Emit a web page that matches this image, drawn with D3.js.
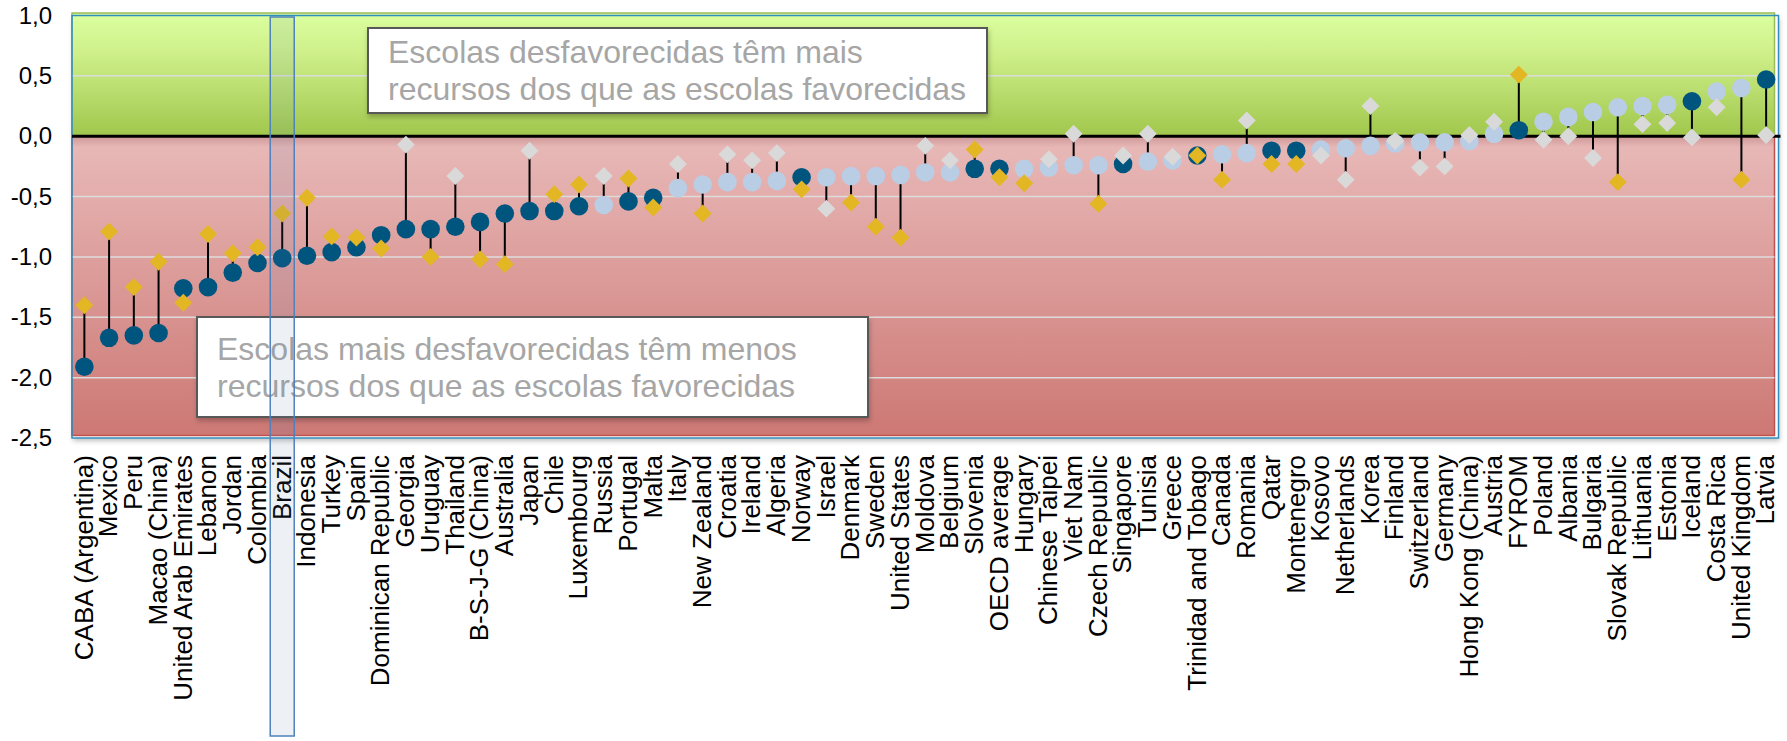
<!DOCTYPE html>
<html>
<head>
<meta charset="utf-8">
<script src="https://cdn.jsdelivr.net/npm/d3@7"></script>
<style>
  html, body { margin: 0; padding: 0; background: #fff; }
  svg { display: block; font-family: "Liberation Sans", Arial, sans-serif; }
</style>
</head>
<body>
<div id="chart"></div>
<script>
// categories, in the order of the chart
const countries = [
    'CABA (Argentina)', 'Mexico', 'Peru', 'Macao (China)', 'United Arab Emirates', 'Lebanon',
    'Jordan', 'Colombia', 'Brazil', 'Indonesia', 'Turkey', 'Spain', 'Dominican Republic',
    'Georgia', 'Uruguay', 'Thailand', 'B-S-J-G (China)', 'Australia', 'Japan', 'Chile',
    'Luxembourg', 'Russia', 'Portugal', 'Malta', 'Italy', 'New Zealand', 'Croatia', 'Ireland',
    'Algeria', 'Norway', 'Israel', 'Denmark', 'Sweden', 'United States', 'Moldova', 'Belgium',
    'Slovenia', 'OECD average', 'Hungary', 'Chinese Taipei', 'Viet Nam', 'Czech Republic',
    'Singapore', 'Tunisia', 'Greece', 'Trinidad and Tobago', 'Canada', 'Romania', 'Qatar',
    'Montenegro', 'Kosovo', 'Netherlands', 'Korea', 'Finland', 'Switzerland', 'Germany',
    'Hong Kong (China)', 'Austria', 'FYROM', 'Poland', 'Albania', 'Bulgaria', 'Slovak Republic',
    'Lithuania', 'Estonia', 'Iceland', 'Costa Rica', 'United Kingdom', 'Latvia'
];

// circle series (index of resource difference)
const circleValues = [
    -1.91, -1.67, -1.65, -1.63, -1.26, -1.25, -1.13, -1.05, -1.01, -0.99, -0.96, -0.92, -0.82,
    -0.77, -0.77, -0.75, -0.71, -0.64, -0.62, -0.62, -0.58, -0.57, -0.54, -0.51, -0.43, -0.40,
    -0.38, -0.38, -0.37, -0.34, -0.34, -0.33, -0.33, -0.32, -0.30, -0.30, -0.27, -0.27, -0.27,
    -0.26, -0.24, -0.24, -0.23, -0.21, -0.20, -0.16, -0.15, -0.14, -0.12, -0.12, -0.11, -0.10,
    -0.08, -0.06, -0.05, -0.05, -0.04, 0.02, 0.05, 0.12, 0.16, 0.20, 0.24, 0.25, 0.26, 0.29,
    0.37, 0.40, 0.47
];
// 1 = significant difference (dark circle), 0 = not significant (light circle)
const circleSignificant = [
    1, 1, 1, 1, 1, 1, 1, 1, 1, 1, 1, 1, 1, 1, 1, 1, 1, 1, 1, 1, 1, 0, 1, 1, 0, 0, 0, 0, 0, 1,
    0, 0, 0, 0, 0, 0, 1, 1, 0, 0, 0, 0, 1, 0, 0, 1, 0, 0, 1, 1, 0, 0, 0, 0, 0, 0, 0, 0, 1, 0,
    0, 0, 0, 0, 0, 1, 0, 0, 1
];

// diamond series
const diamondValues = [
    -1.40, -0.79, -1.25, -1.04, -1.38, -0.81, -0.97, -0.92, -0.64, -0.51, -0.83, -0.84, -0.93,
    -0.07, -1.00, -0.33, -1.02, -1.06, -0.12, -0.48, -0.40, -0.33, -0.35, -0.59, -0.23, -0.64,
    -0.15, -0.20, -0.14, -0.44, -0.60, -0.55, -0.75, -0.84, -0.08, -0.20, -0.11, -0.34, -0.39,
    -0.19, 0.02, -0.56, -0.16, 0.02, -0.17, -0.16, -0.36, 0.13, -0.23, -0.23, -0.16, -0.36,
    0.25, -0.04, -0.26, -0.25, 0.01, 0.12, 0.51, -0.03, 0.00, -0.18, -0.38, 0.10, 0.11, -0.01,
    0.24, -0.36, 0.01
];
// 1 = significant (yellow diamond), 0 = not significant (grey diamond)
const diamondSignificant = [
    1, 1, 1, 1, 1, 1, 1, 1, 1, 1, 1, 1, 1, 0, 1, 0, 1, 1, 0, 1, 1, 0, 1, 1, 0, 1, 0, 0, 0, 1,
    0, 1, 1, 1, 0, 0, 1, 1, 1, 0, 0, 1, 0, 0, 0, 1, 1, 0, 1, 1, 0, 0, 0, 0, 0, 0, 0, 0, 1, 0,
    0, 0, 1, 0, 0, 0, 0, 1, 0
];

const yTicks = [1.0, 0.5, 0.0, -0.5, -1.0, -1.5, -2.0, -2.5];
const gridValues = [0.5, -0.5, -1.0, -1.5, -2.0];
const highlighted = 'Brazil';
const noteTop = ['Escolas desfavorecidas têm mais', 'recursos dos que as escolas favorecidas'];
const noteBottom = ['Escolas mais desfavorecidas têm menos', 'recursos dos que as escolas favorecidas'];

const WIDTH = 1787;
const HEIGHT = 741;
const PLOT = { left: 72, right: 1778.5, top: 15.5, bottom: 438 };
const COLORS = {
    darkCircle: '#00557f',
    lightCircle: '#b9cde5',
    yellow: '#e3b623',
    grey: '#d9d9d9',
    grid: '#dcdcdc',
    note: '#a6a6a6'
};

const rows = countries.map((name, i) => ({
    name,
    circle: circleValues[i],
    circleSig: circleSignificant[i] === 1,
    diamond: diamondValues[i],
    diamondSig: diamondSignificant[i] === 1
}));

const svg = d3.select('#chart').append('svg')
    .attr('width', WIDTH)
    .attr('height', HEIGHT);

const defs = svg.append('defs');

function vGradient(id, stops) {
    const g = defs.append('linearGradient')
        .attr('id', id)
        .attr('x1', '0%').attr('y1', '0%')
        .attr('x2', '0%').attr('y2', '100%');
    stops.forEach(([offset, color, opacity]) => {
        g.append('stop')
            .attr('offset', offset)
            .attr('stop-color', color)
            .attr('stop-opacity', opacity === undefined ? 1 : opacity);
    });
}
vGradient('green-bg', [['0%', '#dcffa0'], ['35%', '#cdee88'], ['100%', '#a0c74c']]);
vGradient('red-bg', [['0%', '#e8bab9'], ['100%', '#cd7874']]);
vGradient('zero-shadow', [['0%', '#7a2a2a', 0.22], ['100%', '#7a2a2a', 0]]);

const shadow = defs.append('filter')
    .attr('id', 'shadow')
    .attr('x', '-5%').attr('y', '-5%')
    .attr('width', '110%').attr('height', '115%');
shadow.append('feDropShadow')
    .attr('dx', 1).attr('dy', 3)
    .attr('stdDeviation', 2.5)
    .attr('flood-color', '#000')
    .attr('flood-opacity', 0.25);

const x = d3.scaleBand()
    .domain(countries)
    .range([PLOT.left, PLOT.right])
    .padding(0);

const y = d3.scaleLinear()
    .domain([-2.5, 1])
    .range([PLOT.bottom, PLOT.top]);

const cx = d => x(d.name) + x.bandwidth() / 2;

// plot area frame with shadow
svg.append('rect')
    .attr('x', PLOT.left)
    .attr('y', PLOT.top)
    .attr('width', PLOT.right - PLOT.left)
    .attr('height', PLOT.bottom - PLOT.top)
    .attr('fill', '#fff')
    .attr('filter', 'url(#shadow)');

// favourable zone (green) and unfavourable zone (red)
svg.append('rect')
    .attr('x', PLOT.left)
    .attr('y', PLOT.top - 2.5)
    .attr('width', PLOT.right - PLOT.left - 4)
    .attr('height', y(0) - PLOT.top + 2.5)
    .attr('fill', 'url(#green-bg)')
    .attr('stroke', '#9bbb59')
    .attr('stroke-width', 1.5);

svg.append('rect')
    .attr('x', PLOT.left)
    .attr('y', y(0))
    .attr('width', PLOT.right - PLOT.left - 4)
    .attr('height', PLOT.bottom - 2.5 - y(0))
    .attr('fill', 'url(#red-bg)')
    .attr('stroke', '#c0504d')
    .attr('stroke-width', 1.5);

svg.append('rect')
    .attr('x', PLOT.left + 1)
    .attr('y', y(0) + 1)
    .attr('width', PLOT.right - PLOT.left - 6)
    .attr('height', 10)
    .attr('fill', 'url(#zero-shadow)');

// gridlines
svg.append('g')
    .selectAll('line')
    .data(gridValues)
    .join('line')
    .attr('x1', PLOT.left)
    .attr('x2', PLOT.right - 4)
    .attr('y1', d => y(d))
    .attr('y2', d => y(d))
    .attr('stroke', COLORS.grid)
    .attr('stroke-width', 1.5);

// outer plot border
svg.append('rect')
    .attr('x', PLOT.left)
    .attr('y', PLOT.top)
    .attr('width', PLOT.right - PLOT.left)
    .attr('height', PLOT.bottom - PLOT.top)
    .attr('fill', 'none')
    .attr('stroke', '#2f8ec0')
    .attr('stroke-width', 1.5);

// zero line
svg.append('line')
    .attr('x1', PLOT.left)
    .attr('x2', PLOT.right + 2)
    .attr('y1', y(0))
    .attr('y2', y(0))
    .attr('stroke', '#000')
    .attr('stroke-width', 3);

// annotation boxes
function note(lines, box) {
    const g = svg.append('g');
    g.append('rect')
        .attr('x', box.x).attr('y', box.y)
        .attr('width', box.w).attr('height', box.h)
        .attr('fill', '#fff')
        .attr('stroke', '#595959')
        .attr('stroke-width', 2)
        .attr('filter', 'url(#shadow)');
    g.selectAll('text')
        .data(lines)
        .join('text')
        .attr('x', box.x + box.padX)
        .attr('y', (d, i) => box.y + box.baseline + i * 37.5)
        .attr('fill', COLORS.note)
        .style('font-size', '32px')
        .text(d => d);
}
note(noteTop, { x: 368, y: 28, w: 619, h: 85, padX: 20, baseline: 34.5 });
note(noteBottom, { x: 197, y: 317, w: 671, h: 100, padX: 20, baseline: 42.5 });

// y axis labels
const yAxis = svg.append('g')
    .attr('transform', `translate(${PLOT.left},0)`)
    .call(d3.axisLeft(y)
        .tickValues(yTicks)
        .tickSize(0)
        .tickPadding(20)
        .tickFormat(d => d3.format('.1f')(d).replace('.', ',').replace('−', '-')));
yAxis.select('.domain').remove();
yAxis.selectAll('text')
    .attr('fill', '#000')
    .style('font-size', '24px')
    .style('font-family', '"Liberation Sans", Arial, sans-serif');

// x axis labels
const xAxis = svg.append('g')
    .attr('transform', `translate(0,${PLOT.bottom})`)
    .call(d3.axisBottom(x).tickSize(0));
xAxis.select('.domain').remove();
xAxis.selectAll('text')
    .attr('fill', '#000')
    .attr('x', -17)
    .attr('y', 0)
    .attr('dy', '0.32em')
    .attr('transform', 'rotate(-90)')
    .style('text-anchor', 'end')
    .style('font-size', '26px')
    .style('font-family', '"Liberation Sans", Arial, sans-serif');

// stems between the two series
svg.append('g')
    .selectAll('line')
    .data(rows)
    .join('line')
    .attr('x1', cx)
    .attr('x2', cx)
    .attr('y1', d => y(d.circle))
    .attr('y2', d => y(d.diamond))
    .attr('stroke', '#000')
    .attr('stroke-width', 2);

svg.append('g')
    .selectAll('circle')
    .data(rows)
    .join('circle')
    .attr('cx', cx)
    .attr('cy', d => y(d.circle))
    .attr('r', 9.3)
    .attr('fill', d => d.circleSig ? COLORS.darkCircle : COLORS.lightCircle);

const diamond = d3.symbol().type(d3.symbolSquare).size(160);
svg.append('g')
    .selectAll('path')
    .data(rows)
    .join('path')
    .attr('d', diamond)
    .attr('transform', d => `translate(${cx(d)},${y(d.diamond)}) rotate(45)`)
    .attr('fill', d => d.diamondSig ? COLORS.yellow : COLORS.grey);

// highlight column for Brazil
svg.append('rect')
    .attr('x', x(highlighted) + x.bandwidth() / 2 - 12)
    .attr('y', 17)
    .attr('width', 24)
    .attr('height', 719)
    .attr('fill', 'rgb(95,125,175)')
    .attr('fill-opacity', 0.11)
    .attr('stroke', '#4f81bd')
    .attr('stroke-width', 1.5);
</script>
</body>
</html>
